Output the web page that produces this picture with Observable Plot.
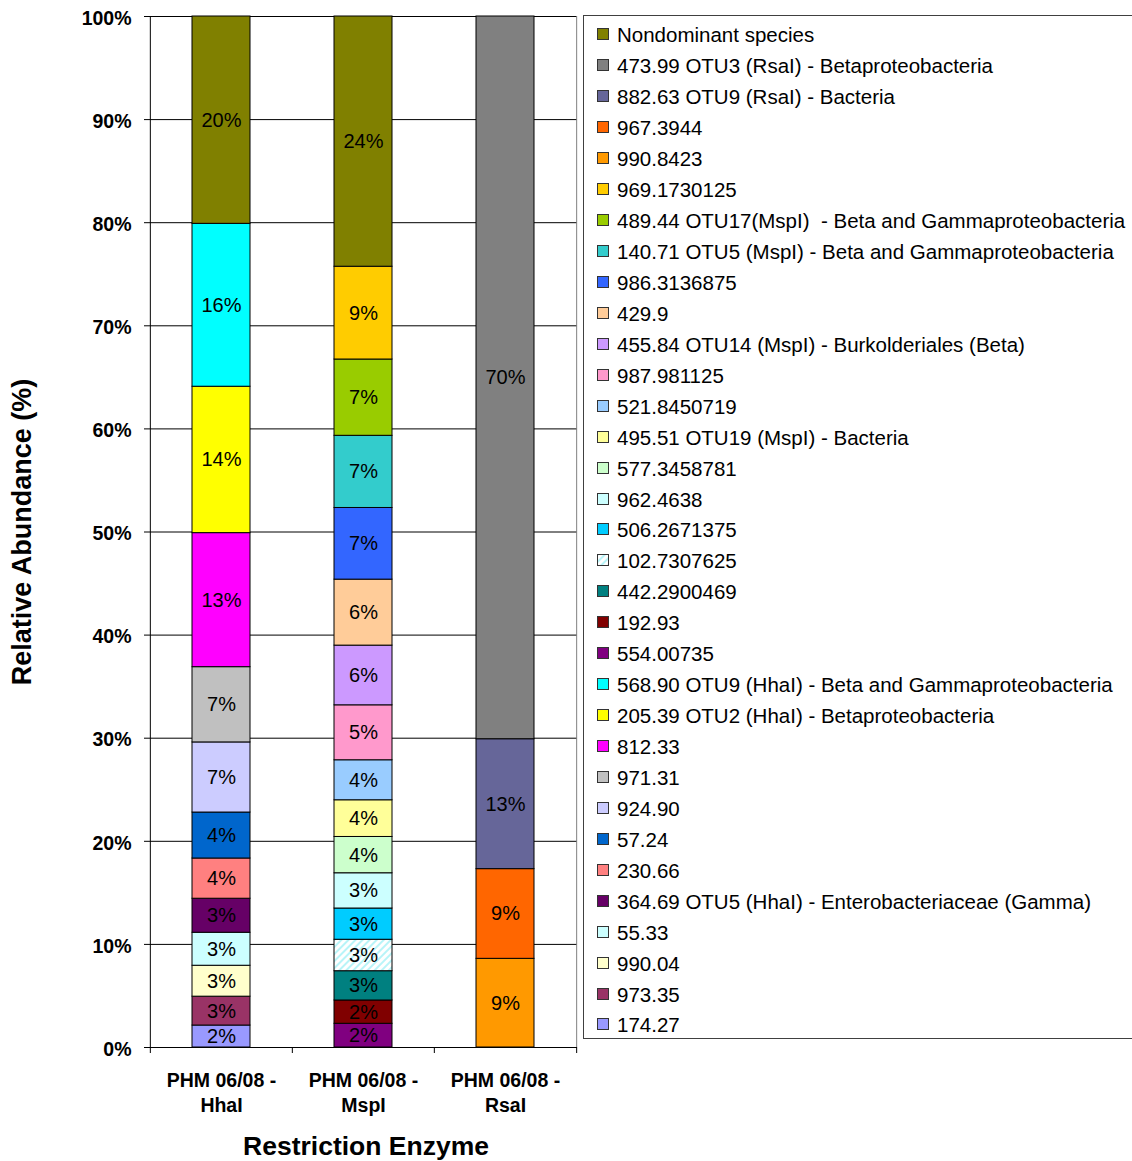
<!DOCTYPE html>
<html>
<head>
<meta charset="utf-8">
<script src="https://cdn.jsdelivr.net/npm/d3@7"></script>
<script src="https://cdn.jsdelivr.net/npm/@observablehq/plot@0.6"></script>
<style>
  body { margin: 0; background: #fff; font-family: "Liberation Sans", Arial, sans-serif; }
  #chart { position: relative; width: 1132px; height: 1161px; overflow: hidden; }
  #chart > svg { position: absolute; left: 0; top: 0; }
  #legend {
    position: absolute; left: 583px; top: 15px; width: 570px; height: 1024px;
    border: 1px solid #404040; box-sizing: border-box; padding-top: 4px; background: #fff;
  }
  .item { height: 30.94px; display: flex; align-items: center; font-size: 20.5px; white-space: pre; color: #000; }
  .item svg { margin-left: 13px; margin-right: 8px; flex: none; position: relative; top: -1px; }
</style>
</head>
<body>
<svg width="0" height="0" style="position:absolute">
  <defs>
    <pattern id="hatch" patternUnits="userSpaceOnUse" width="5" height="5" patternTransform="rotate(45)">
      <rect width="5" height="5" fill="#ffffff"></rect>
      <line x1="1" y1="0" x2="1" y2="5" stroke="#b8f4f8" stroke-width="2"></line>
    </pattern>
  </defs>
</svg>
<div id="chart"><div id="legend"></div></div>
<script>
// Samples (one bar per restriction enzyme)
const enzymes = ["HhaI", "MspI", "RsaI"];

// Legend entries, top to bottom, and their fills
const legendSpecies = [
  "Nondominant species",
  "473.99 OTU3 (RsaI) - Betaproteobacteria",
  "882.63 OTU9 (RsaI) - Bacteria",
  "967.3944",
  "990.8423",
  "969.1730125",
  "489.44 OTU17(MspI)  - Beta and Gammaproteobacteria",
  "140.71 OTU5 (MspI) - Beta and Gammaproteobacteria",
  "986.3136875",
  "429.9",
  "455.84 OTU14 (MspI) - Burkolderiales (Beta)",
  "987.981125",
  "521.8450719",
  "495.51 OTU19 (MspI) - Bacteria",
  "577.3458781",
  "962.4638",
  "506.2671375",
  "102.7307625",
  "442.2900469",
  "192.93",
  "554.00735",
  "568.90 OTU9 (HhaI) - Beta and Gammaproteobacteria",
  "205.39 OTU2 (HhaI) - Betaproteobacteria",
  "812.33",
  "971.31",
  "924.90",
  "57.24",
  "230.66",
  "364.69 OTU5 (HhaI) - Enterobacteriaceae (Gamma)",
  "55.33",
  "990.04",
  "973.35",
  "174.27"
];
const legendColors = [
  "#808000", "#808080", "#666699", "#FF6600", "#FF9900", "#FFCC00", "#99CC00",
  "#33CCCC", "#3366FF", "#FFCC99", "#CC99FF", "#FF99CC", "#99CCFF", "#FFFF99",
  "#CCFFCC", "#CCFFFF", "#00CCFF", "url(#hatch)", "#008080", "#800000", "#800080",
  "#00FFFF", "#FFFF00", "#FF00FF", "#C0C0C0", "#CCCCFF", "#0066CC", "#FF8080",
  "#660066", "#CCFFFF", "#FFFFCC", "#993366", "#9999FF"
];

// Stack contents per enzyme, bottom to top (relative abundance, %)
const hhaiSpecies = [
  "174.27", "973.35", "990.04", "55.33",
  "364.69 OTU5 (HhaI) - Enterobacteriaceae (Gamma)", "230.66", "57.24", "924.90",
  "971.31", "812.33", "205.39 OTU2 (HhaI) - Betaproteobacteria",
  "568.90 OTU9 (HhaI) - Beta and Gammaproteobacteria", "Nondominant species"
];
const hhaiValues = [2.13, 2.8, 3.0, 3.2, 3.3, 3.9, 4.46, 6.8, 7.3, 13.0, 14.2, 15.8, 20.11];

const mspiSpecies = [
  "554.00735", "192.93", "442.2900469", "102.7307625", "506.2671375", "962.4638",
  "577.3458781", "495.51 OTU19 (MspI) - Bacteria", "521.8450719", "987.981125",
  "455.84 OTU14 (MspI) - Burkolderiales (Beta)", "429.9", "986.3136875",
  "140.71 OTU5 (MspI) - Beta and Gammaproteobacteria",
  "489.44 OTU17(MspI)  - Beta and Gammaproteobacteria", "969.1730125", "Nondominant species"
];
const mspiValues = [2.3, 2.26, 2.84, 3.05, 3.03, 3.42, 3.52, 3.56, 3.88, 5.33, 5.79, 6.4, 6.95, 7.0, 7.4, 9.0, 24.27];

const rsaiSpecies = [
  "990.8423", "967.3944", "882.63 OTU9 (RsaI) - Bacteria", "473.99 OTU3 (RsaI) - Betaproteobacteria"
];
const rsaiValues = [8.6, 8.7, 12.6, 70.1];

const yTicks = d3.range(0, 101, 10);

// Long table for Plot
const stacks = [[hhaiSpecies, hhaiValues], [mspiSpecies, mspiValues], [rsaiSpecies, rsaiValues]];
const rows = enzymes.flatMap((enzyme, k) =>
  stacks[k][0].map((species, i) => ({enzyme, species, value: stacks[k][1][i]}))
);

const width = 580, height = 1161;
const marginLeft = 150, marginRight = 3, marginTop = 16, marginBottom = 114;
const step = (width - marginLeft - marginRight) / enzymes.length;
const first = enzymes[0], last = enzymes[enzymes.length - 1];
const font = "Liberation Sans, Arial, sans-serif";

const chart = Plot.plot({
  width, height, marginLeft, marginRight, marginTop, marginBottom,
  style: {fontFamily: font, background: "#fff", color: "#000"},
  x: {domain: enzymes, paddingInner: 0.59, paddingOuter: 0.295},
  y: {domain: [0, 100]},
  color: {domain: legendSpecies, range: legendColors},
  marks: [
    // horizontal gridlines
    Plot.ruleY(yTicks.filter(d => d > 0), {stroke: "#000", strokeWidth: 1}),
    // right edge of the plot area
    Plot.ruleX([last], {x: d => d, dx: step / 2, y1: 0, y2: 100, stroke: "#808080"}),
    // stacked bars
    Plot.barY(rows, {x: "enzyme", y: "value", fill: "species", stroke: "#000", strokeWidth: 1}),
    // percentage labels in each segment
    Plot.text(rows, Plot.stackY({
      x: "enzyme", y: "value",
      text: d => `${Math.round(d.value)}%`,
      fontSize: 20, fill: "#000"
    })),
    // axis lines
    Plot.ruleY([0], {stroke: "#000"}),
    Plot.ruleX([first], {x: d => d, dx: -step / 2, y1: 0, y2: 100, stroke: "#000"}),
    // category boundary ticks below the x axis
    Plot.ruleX(enzymes, {x: d => d, dx: -step / 2, y1: 0, y2: 0, insetBottom: -6, stroke: "#000"}),
    Plot.ruleX([last], {x: d => d, dx: step / 2, y1: 0, y2: 0, insetBottom: -6, stroke: "#000"}),
    // y axis: tick marks, then labels nudged slightly down
    Plot.axisY({ticks: yTicks, tickSize: 6, text: null, label: null}),
    Plot.axisY({
      ticks: yTicks, tickFormat: d => `${d}%`, tickSize: 0, tickPadding: 19, dy: 2,
      fontSize: 19.5, fontWeight: "bold", label: null
    }),
    Plot.axisX({
      tickSize: 0, tickPadding: 22, fontSize: 19.5, fontWeight: "bold", lineHeight: 1.28,
      tickFormat: d => `PHM 06/08 -\n${d}`, label: null
    }),
    // axis titles
    Plot.text(["Relative Abundance (%)"], {
      frameAnchor: "left", textAnchor: "middle", dx: -128, rotate: -90, text: d => d,
      fontSize: 27, fontWeight: "bold", fill: "#000"
    }),
    Plot.text(["Restriction Enzyme"], {
      frameAnchor: "bottom", textAnchor: "middle", dx: 2, dy: 107, text: d => d,
      fontSize: 26.5, fontWeight: "bold", fill: "#000"
    })
  ]
});

const container = document.getElementById("chart");
container.insertBefore(chart, container.firstChild);

// Legend box to the right of the plot
const legend = d3.select("#legend");
const items = legend.selectAll("div.item")
  .data(legendSpecies.map((name, i) => ({name, color: legendColors[i]})))
  .join("div").attr("class", "item");
const sw = items.append("svg").attr("width", 12).attr("height", 12);
sw.append("rect")
  .attr("x", 0.5).attr("y", 0.5).attr("width", 11).attr("height", 11)
  .attr("fill", d => d.color).attr("stroke", "#333");
items.append("span").text(d => d.name);
</script>
</body>
</html>
